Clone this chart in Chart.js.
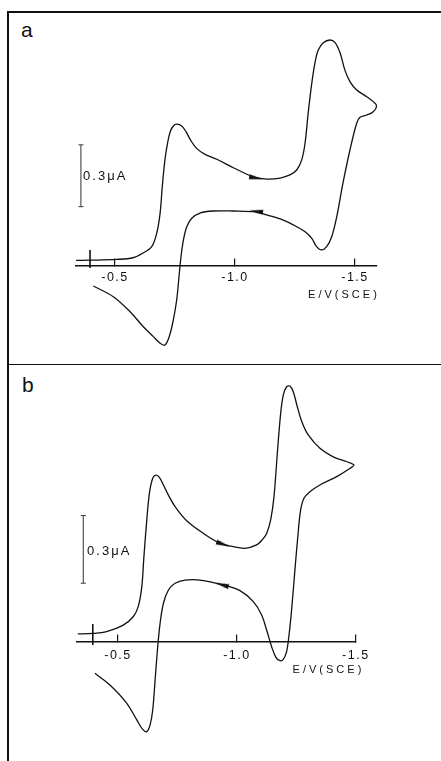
<!DOCTYPE html>
<html>
<head>
<meta charset="utf-8">
<script src="https://cdn.jsdelivr.net/npm/chart.js@4.4.0/dist/chart.umd.min.js"></script>
<style>
	body { margin: 0; background: #fff; width: 441px; height: 761px; overflow: hidden; position: relative; font-family: "Liberation Sans", Arial, sans-serif; }
	.rule { position: absolute; background: #111; }
	.tag { position: absolute; font-size: 21px; line-height: 21px; color: #111; }
	canvas { position: absolute; }
	#chartA { left: 8px; top: 12px; }
	#chartB { left: 8px; top: 365px; }
</style>
</head>
<body>
<div class="rule" style="left:7px;top:11px;width:434px;height:1.5px"></div>
<div class="rule" style="left:7px;top:11px;width:1.5px;height:750px"></div>
<div class="rule" style="left:7px;top:363.5px;width:434px;height:1.5px"></div>
<div class="tag" style="left:21px;top:19px">a</div>
<div class="tag" style="left:22px;top:374px">b</div>
<canvas id="chartA" width="433" height="352"></canvas>
<canvas id="chartB" width="433" height="396"></canvas>
<script>
// potential (V vs SCE) and current (uA), in scan order
const potentialA = [
	-0.338, -0.396, -0.507, -0.575, -0.617, -0.653, -0.674, -0.688, -0.697, -0.708,
	-0.719, -0.731, -0.745, -0.758, -0.778, -0.796, -0.815, -0.840, -0.875, -0.924,
	-0.993, -1.076, -1.133, -1.188, -1.229, -1.257, -1.278, -1.292, -1.305, -1.320,
	-1.333, -1.347, -1.368, -1.396, -1.417, -1.438, -1.458, -1.479, -1.507, -1.549,
	-1.576, -1.590, -1.576, -1.549, -1.521, -1.507, -1.479, -1.450, -1.424, -1.403,
	-1.382, -1.361, -1.340, -1.320, -1.292, -1.257, -1.201, -1.132, -1.092, -0.992,
	-0.908, -0.854, -0.820, -0.799, -0.785, -0.775, -0.768, -0.757, -0.743, -0.726,
	-0.708, -0.688, -0.660, -0.618, -0.563, -0.493, -0.410,
];
const currentA = [
	0.028, 0.029, 0.033, 0.041, 0.064, 0.095, 0.161, 0.258, 0.386, 0.516,
	0.598, 0.656, 0.683, 0.690, 0.681, 0.653, 0.612, 0.572, 0.543, 0.519,
	0.478, 0.434, 0.423, 0.428, 0.443, 0.467, 0.516, 0.598, 0.744, 0.889,
	0.986, 1.050, 1.085, 1.098, 1.085, 1.035, 0.952, 0.896, 0.855, 0.823,
	0.799, 0.778, 0.750, 0.734, 0.723, 0.694, 0.564, 0.404, 0.240, 0.143,
	0.095, 0.079, 0.095, 0.135, 0.167, 0.192, 0.224, 0.249, 0.263, 0.268,
	0.268, 0.258, 0.233, 0.192, 0.127, 0.046, -0.034, -0.164, -0.261, -0.342,
	-0.383, -0.374, -0.342, -0.294, -0.221, -0.148, -0.096,
];
const potentialB = [
	-0.331, -0.394, -0.452, -0.522, -0.564, -0.585, -0.600, -0.609, -0.621, -0.632,
	-0.646, -0.660, -0.674, -0.691, -0.712, -0.740, -0.789, -0.859, -0.929, -0.985,
	-1.034, -1.083, -1.106, -1.125, -1.142, -1.156, -1.170, -1.184, -1.195, -1.209,
	-1.223, -1.237, -1.254, -1.273, -1.300, -1.349, -1.405, -1.462, -1.492, -1.476,
	-1.420, -1.349, -1.307, -1.282, -1.268, -1.256, -1.244, -1.230, -1.220, -1.209,
	-1.195, -1.181, -1.164, -1.146, -1.125, -1.104, -1.069, -1.013, -0.943, -0.845,
	-0.782, -0.740, -0.712, -0.691, -0.677, -0.667, -0.656, -0.646, -0.635, -0.621,
	-0.604, -0.579, -0.537, -0.466, -0.403,
];
const currentB = [
	0.036, 0.038, 0.046, 0.075, 0.112, 0.157, 0.245, 0.379, 0.541, 0.660,
	0.727, 0.741, 0.731, 0.697, 0.652, 0.601, 0.538, 0.482, 0.438, 0.423,
	0.416, 0.431, 0.453, 0.482, 0.542, 0.645, 0.838, 1.015, 1.096, 1.133,
	1.136, 1.111, 1.044, 0.978, 0.919, 0.860, 0.822, 0.800, 0.786, 0.771,
	0.734, 0.697, 0.667, 0.638, 0.586, 0.467, 0.320, 0.142, 0.039, -0.043,
	-0.077, -0.083, -0.068, -0.021, 0.053, 0.120, 0.179, 0.228, 0.253, 0.275,
	0.275, 0.261, 0.231, 0.172, 0.083, -0.021, -0.169, -0.302, -0.368, -0.398,
	-0.388, -0.346, -0.272, -0.191, -0.139,
];

// scan direction arrows
const arrowPotentialA = [-1.088, -1.088];
const arrowCurrentA = [0.428, 0.266];
const arrowPotentialB = [-0.942, -0.937];
const arrowCurrentB = [0.434, 0.254];

// start potential and 0.3 uA scale bar
const startA = [-0.396, 0.035];
const startB = [-0.394, 0.033];
const barA = [-0.358, 0.289];
const barB = [-0.354, 0.261];
const barSize = 0.3;

const tickValues = [-0.5, -1.0, -1.5];

const font = '"Liberation Sans", Arial, sans-serif';

// small elongated arrow head used as point style
const head = document.createElement('canvas');
head.width = 14;
head.height = 6;
const hctx = head.getContext('2d');
hctx.fillStyle = '#111';
hctx.beginPath();
hctx.moveTo(0, 0.4);
hctx.lineTo(14, 3);
hctx.lineTo(0, 5.6);
hctx.closePath();
hctx.fill();

const labels = {
	id: 'labels',
	beforeDraw(chart) {
		chart.ctx.letterSpacing = '1.5px';
	},
	afterDraw(chart, args, opts) {
		const { ctx, scales: { x, y } } = chart;
		ctx.save();
		ctx.fillStyle = '#111';
		ctx.textBaseline = 'middle';
		ctx.textAlign = 'left';
		ctx.font = '13px ' + font;
		ctx.letterSpacing = '2px';
		ctx.fillText('0.3\u03bcA', x.getPixelForValue(opts.bar[0]), y.getPixelForValue(opts.bar[1]));
		ctx.textAlign = 'center';
		ctx.font = '11px ' + font;
		ctx.letterSpacing = '3px';
		ctx.fillText('E/V(SCE)', x.getPixelForValue(opts.axis[0]), y.getPixelForValue(opts.axis[1]));
		ctx.restore();
	},
};

function drawPanel(id, potential, current, arrowE, arrowI, rotations, start, startLen, bar, limits, padding, textAt) {
	const points = potential.map((e, k) => ({ x: e, y: current[k] }));
	const arrows = arrowE.map((e, k) => ({ x: e, y: arrowI[k] }));
	new Chart(document.getElementById(id), {
		type: 'scatter',
		data: {
			datasets: [
				{
					data: points,
					showLine: true,
					borderColor: '#111',
					borderWidth: 1.3,
					pointRadius: 0,
					tension: 0.35,
					clip: false,
				},
				{
					data: [{ x: bar[0], y: bar[1] }, { x: bar[0], y: bar[1] + barSize }],
					showLine: true,
					borderColor: '#333',
					borderWidth: 1,
					pointStyle: 'line',
					pointRadius: 2.5,
					pointBorderColor: '#333',
					pointBorderWidth: 1,
					clip: false,
				},
				{
					data: [{ x: start[0], y: start[1] }],
					pointStyle: 'line',
					pointRotation: 90,
					pointRadius: startLen,
					pointBorderColor: '#111',
					pointBorderWidth: 1.6,
					clip: false,
				},
				{
					data: arrows,
					pointStyle: head,
					pointRotation: rotations,
					pointRadius: 7,
					clip: false,
				},
			],
		},
		options: {
			responsive: false,
			animation: false,
			events: [],
			layout: { padding: padding, autoPadding: false },
			plugins: {
				legend: { display: false },
				tooltip: { enabled: false },
				labels: textAt,
			},
			scales: {
				x: {
					type: 'linear',
					reverse: true,
					min: limits[0],
					max: limits[1],
					position: { y: 0 },
					afterBuildTicks: (scale) => {
						scale.ticks = tickValues.map((v) => ({ value: v }));
					},
					grid: { drawOnChartArea: false, drawTicks: true, tickLength: -8, color: '#111', lineWidth: 1.2 },
					border: { display: true, color: '#111', width: 1.6 },
					ticks: {
						padding: textAt.tickGap,
						color: '#111',
						font: { size: 12.5, family: font },
						callback: (v) => v.toFixed(1),
					},
				},
				y: {
					type: 'linear',
					display: false,
					ticks: { display: false },
					min: limits[2],
					max: limits[3],
				},
			},
		},
		plugins: [labels],
	});
}

drawPanel('chartA', potentialA, currentA, arrowPotentialA, arrowCurrentA, [10, 187],
	startA, 9, barA, [-1.5917, -0.3375, -0.4748, 1.234],
	{ left: 68, right: 64, top: 0, bottom: 0 },
	{ bar: [-0.367, 0.434], axis: [-1.454, -0.14], tickGap: 12 });

drawPanel('chartB', potentialB, currentB, arrowPotentialB, arrowCurrentB, [18, 196],
	startB, 10.5, barB, [-1.5008, -0.3276, -0.5282, 1.2295],
	{ left: 69, right: 85, top: 0, bottom: 0 },
	{ bar: [-0.370, 0.401], axis: [-1.385, -0.124], tickGap: 14 });
</script>
</body>
</html>
